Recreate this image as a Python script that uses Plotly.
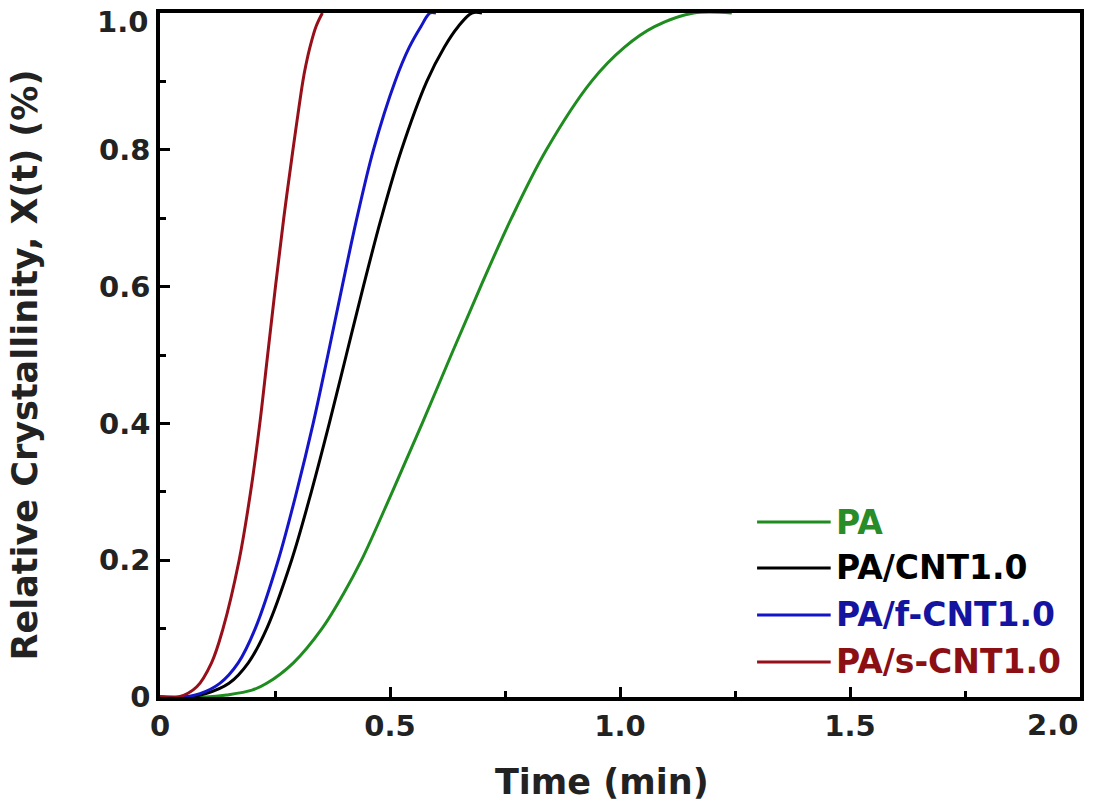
import plotly.graph_objects as go

# Relative crystallinity X(t) vs time for each sample
t_pa = [0.0, 0.10, 0.145, 0.20, 0.232, 0.290, 0.352, 0.398, 0.438, 0.505, 0.570, 0.633,
        0.697, 0.764, 0.840, 0.938, 1.010, 1.075, 1.160, 1.243]
x_pa = [0.0, 0.0, 0.003, 0.01, 0.02, 0.05, 0.10, 0.15, 0.20, 0.30, 0.40, 0.50,
        0.60, 0.70, 0.80, 0.90, 0.95, 0.98, 1.0, 1.0]

t_cnt = [0.0, 0.06, 0.10, 0.15, 0.192, 0.232, 0.286, 0.329, 0.368, 0.405, 0.442,
         0.481, 0.525, 0.580, 0.618, 0.648, 0.678, 0.70]
x_cnt = [0.0, 0.0, 0.005, 0.02, 0.05, 0.10, 0.20, 0.30, 0.40, 0.50, 0.60,
         0.70, 0.80, 0.90, 0.95, 0.98, 1.0, 1.0]

t_fcnt = [0.0, 0.05, 0.087, 0.13, 0.170, 0.207, 0.257, 0.297, 0.333, 0.365, 0.396,
          0.428, 0.464, 0.511, 0.542, 0.567, 0.587, 0.60]
x_fcnt = [0.0, 0.0, 0.005, 0.02, 0.05, 0.10, 0.20, 0.30, 0.40, 0.50, 0.60,
          0.70, 0.80, 0.90, 0.95, 0.98, 1.0, 1.0]

t_scnt = [0.0, 0.04, 0.08, 0.112, 0.137, 0.172, 0.197, 0.217, 0.234, 0.251,
          0.269, 0.289, 0.2995, 0.3105, 0.3175, 0.326, 0.339, 0.353]
x_scnt = [0.0, 0.0, 0.015, 0.05, 0.10, 0.20, 0.30, 0.40, 0.50, 0.60,
          0.70, 0.80, 0.85, 0.90, 0.925, 0.95, 0.98, 1.0]

names = ["PA", "PA/CNT1.0", "PA/f-CNT1.0", "PA/s-CNT1.0"]
line_colors = ["rgb(30,140,30)", "rgb(0,0,0)", "rgb(20,20,200)", "rgb(150,15,25)"]
text_colors = ["rgb(40,140,40)", "rgb(0,0,0)", "rgb(20,20,160)", "rgb(140,15,20)"]

x_ticks = [0, 0.5, 1.0, 1.5, 2.0]
x_ticklabels = ["0", "0.5", "1.0", "1.5", "2.0"]
y_ticks = [0, 0.2, 0.4, 0.6, 0.8, 1.0]
y_ticklabels = ["0", "0.2", "0.4", "0.6", "0.8", "1.0"]

FONT = "DejaVu Sans"
TICK_SIZE = 29
TICK_COLOR = "#222"

fig = go.Figure()
series = [(t_pa, x_pa), (t_cnt, x_cnt), (t_fcnt, x_fcnt), (t_scnt, x_scnt)]
for (t, x), name, color in zip(series, names, line_colors):
    fig.add_trace(go.Scatter(
        x=t, y=x, mode="lines", name=name, showlegend=False,
        line=dict(color=color, width=3, shape="spline", smoothing=1.0),
    ))

# Hand-placed legend: line sample plus coloured label per series
legend_y = [0.2558, 0.1886, 0.1199, 0.0512]
for name, lc, tc, ly in zip(names, line_colors, text_colors, legend_y):
    fig.add_shape(type="line", xref="paper", yref="paper",
                  x0=0.649, x1=0.729, y0=ly, y1=ly,
                  line=dict(color=lc, width=3))
    fig.add_annotation(xref="paper", yref="paper", x=0.733, y=ly,
                       text=f"<b>{name}</b>", showarrow=False,
                       xanchor="left", yanchor="middle",
                       font=dict(family=FONT, size=33, color=tc))

# Axis titles
fig.add_annotation(xref="paper", yref="paper", x=0.480, y=-0.124,
                   text="<b>Time (min)</b>", showarrow=False,
                   xanchor="center", yanchor="middle",
                   font=dict(family=FONT, size=35, color=TICK_COLOR))
fig.add_annotation(xref="paper", yref="paper", x=-0.1465, y=0.485,
                   text="<b>Relative Crystallinity, X(t) (%)</b>", showarrow=False,
                   textangle=-90, xanchor="center", yanchor="middle",
                   font=dict(family=FONT, size=35, color=TICK_COLOR))

# End-of-axis tick labels kept inside the page
fig.add_annotation(xref="x", yref="paper", x=x_ticks[-1], y=0, yshift=-9,
                   text=f"<b>{x_ticklabels[-1]}</b>", showarrow=False,
                   xanchor="right", yanchor="top",
                   font=dict(family=FONT, size=TICK_SIZE, color=TICK_COLOR))
fig.add_annotation(xref="paper", yref="y", x=0, y=y_ticks[-1], xshift=-10, yshift=10,
                   text=f"<b>{y_ticklabels[-1]}</b>", showarrow=False,
                   xanchor="right", yanchor="top",
                   font=dict(family=FONT, size=TICK_SIZE, color=TICK_COLOR))

axis_common = dict(
    showline=True, linecolor="black", linewidth=3.5, mirror=True,
    showgrid=False, zeroline=False, automargin=False,
    ticks="inside", ticklen=10, tickwidth=3, tickcolor="black",
    tickfont=dict(family=FONT, size=TICK_SIZE, color=TICK_COLOR),
)

fig.update_xaxes(
    range=[0, 2.0], tickvals=x_ticks,
    ticktext=[f"<b>{s}</b>" for s in x_ticklabels[:-1]] + [""],
    minor=dict(tickvals=[0.25, 0.75, 1.25, 1.75], ticks="inside", ticklen=6,
               tickwidth=3, tickcolor="black"),
    **axis_common,
)
fig.update_yaxes(
    range=[0, 1.0], tickvals=y_ticks,
    ticktext=[f"<b>{s}</b>" for s in y_ticklabels[:-1]] + [""],
    minor=dict(tickvals=[0.1, 0.3, 0.5, 0.7, 0.9], ticks="inside", ticklen=6,
               tickwidth=3, tickcolor="black"),
    **axis_common,
)

fig.update_layout(
    width=1093, height=811,
    margin=dict(l=160, r=13, t=13, b=114),
    paper_bgcolor="white", plot_bgcolor="white",
    showlegend=False,
)

fig.write_html("out.html")
